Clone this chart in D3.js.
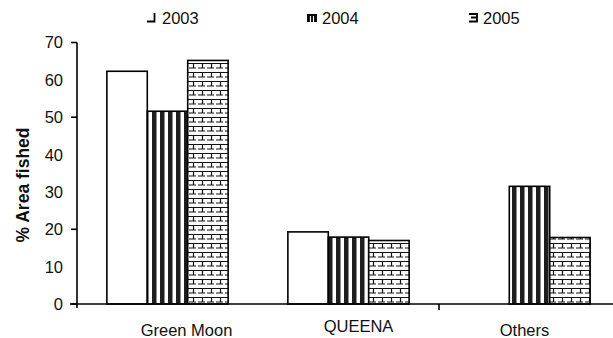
<!DOCTYPE html>
<html>
<head>
<meta charset="utf-8">
<script src="https://cdn.jsdelivr.net/npm/d3@7"></script>
<style>
  html, body { margin: 0; padding: 0; background: #fff; }
  svg { display: block; font-family: "Liberation Sans", Arial, sans-serif; }
</style>
</head>
<body>
<svg id="chart" width="613" height="338"></svg>
<script>
// Fishing ground share by year
const categories = ["Green Moon", "QUEENA", "Others"];
const years = ["2003", "2004", "2005"];
const values2003 = [62.3, 19.3, null];
const values2004 = [51.6, 17.9, 31.5];
const values2005 = [65.2, 17.0, 17.8];
const yTicks = [0, 10, 20, 30, 40, 50, 60, 70];
const yMajorTicks = [0, 20, 50, 70];

const seriesValues = [values2003, values2004, values2005];

const svg = d3.select("#chart");
const W = 613, H = 338;
const x0 = 77, x1 = 620, yBase = 304, yTop = 42.5;

const x = d3.scaleBand().domain(categories).range([x0, x1]).paddingInner(0).paddingOuter(0);
const xs = d3.scaleBand().domain(years).range([0, x.bandwidth() * 0.67]);
const y = d3.scaleLinear().domain([0, 70]).range([yBase, yTop]);

// fill patterns
const defs = svg.append("defs");
const stripes = defs.append("pattern").attr("id", "stripes")
  .attr("patternUnits", "userSpaceOnUse").attr("width", 8).attr("height", 8);
stripes.append("rect").attr("width", 8).attr("height", 8).attr("fill", "#fff");
stripes.append("rect").attr("x", 0).attr("width", 4.5).attr("height", 8).attr("fill", "#1e1e1e");

const bricks = defs.append("pattern").attr("id", "bricks")
  .attr("patternUnits", "userSpaceOnUse").attr("width", 9).attr("height", 9);
bricks.append("rect").attr("width", 9).attr("height", 9).attr("fill", "#fff");
bricks.append("path")
  .attr("d", "M0,0.5H9 M4.5,0V4.5 M0,5H7")
  .attr("stroke", "#111").attr("stroke-width", 1.2).attr("fill", "none");

const fills = ["#fff", "url(#stripes)", "url(#bricks)"];

// bars
const groupOffset = (x.bandwidth() - xs.range()[1]) / 2;
seriesValues.forEach((vals, si) => {
  svg.append("g").selectAll("rect")
    .data(categories.map((c, i) => ({ c, v: vals[i] })).filter(d => d.v != null))
    .join("rect")
    .attr("x", d => x(d.c) + groupOffset + xs(years[si]))
    .attr("y", d => y(d.v))
    .attr("width", xs.bandwidth())
    .attr("height", d => yBase - y(d.v))
    .attr("fill", fills[si])
    .attr("stroke", "#000")
    .attr("stroke-width", 1.6);
});

// axes
const ax = svg.append("g").attr("stroke", "#000").attr("stroke-width", 1.6);
ax.append("line").attr("x1", x0).attr("x2", x0).attr("y1", y(70)).attr("y2", yBase + 4);
ax.append("line").attr("x1", x0 - 7).attr("x2", W).attr("y1", yBase).attr("y2", yBase);
ax.selectAll(".yt").data(yMajorTicks).join("line")
  .attr("x1", x0 - 6).attr("x2", x0).attr("y1", d => y(d)).attr("y2", d => y(d));
ax.append("line").attr("x1", x(categories[2])).attr("x2", x(categories[2]))
  .attr("y1", yBase).attr("y2", yBase + 6);

svg.append("g").selectAll("text").data(yTicks).join("text")
  .attr("x", 63).attr("y", d => y(d)).attr("dy", "0.36em")
  .attr("text-anchor", "end").attr("font-size", 16.5).attr("fill", "#111")
  .text(d => d);

// category labels
const labelShift = [19, 10, -5];
const labelRise = [0, 4, 0];
svg.append("g").selectAll("text").data(categories).join("text")
  .attr("x", (d, i) => x(d) + x.bandwidth() / 2 + labelShift[i])
  .attr("y", (d, i) => 336 - labelRise[i])
  .attr("text-anchor", "middle").attr("font-size", 16.5).attr("fill", "#111")
  .text(d => d);

// y title
svg.append("text")
  .attr("transform", "translate(29,185) rotate(-90)")
  .attr("text-anchor", "middle").attr("font-size", 17.5).attr("font-weight", "bold")
  .attr("fill", "#111").text("% Area fished");

// legend
const legendX = [162, 322, 483];
const lg = svg.append("g");
years.forEach((yr, i) => {
  const g = lg.append("g").attr("transform", `translate(${legendX[i]},0)`);
  if (i === 0) {
    g.append("path").attr("d", "M-15,21.5H-7.5V13").attr("stroke", "#000")
      .attr("stroke-width", 1.8).attr("fill", "none");
  } else if (i === 1) {
    g.append("rect").attr("x", -15).attr("y", 14).attr("width", 10).attr("height", 8).attr("fill", "#000");
    g.append("path").attr("d", "M-11.5,16V22 M-8.5,16V22").attr("stroke", "#fff").attr("stroke-width", 1.2);
  } else {
    g.append("path").attr("d", "M-14,14H-6V21.5H-14 M-12,17.5H-6").attr("stroke", "#000")
      .attr("stroke-width", 1.8).attr("fill", "none");
  }
  g.append("text").attr("x", 0).attr("y", 24).attr("font-size", 16.5).attr("fill", "#111").text(yr);
});
</script>
</body>
</html>
